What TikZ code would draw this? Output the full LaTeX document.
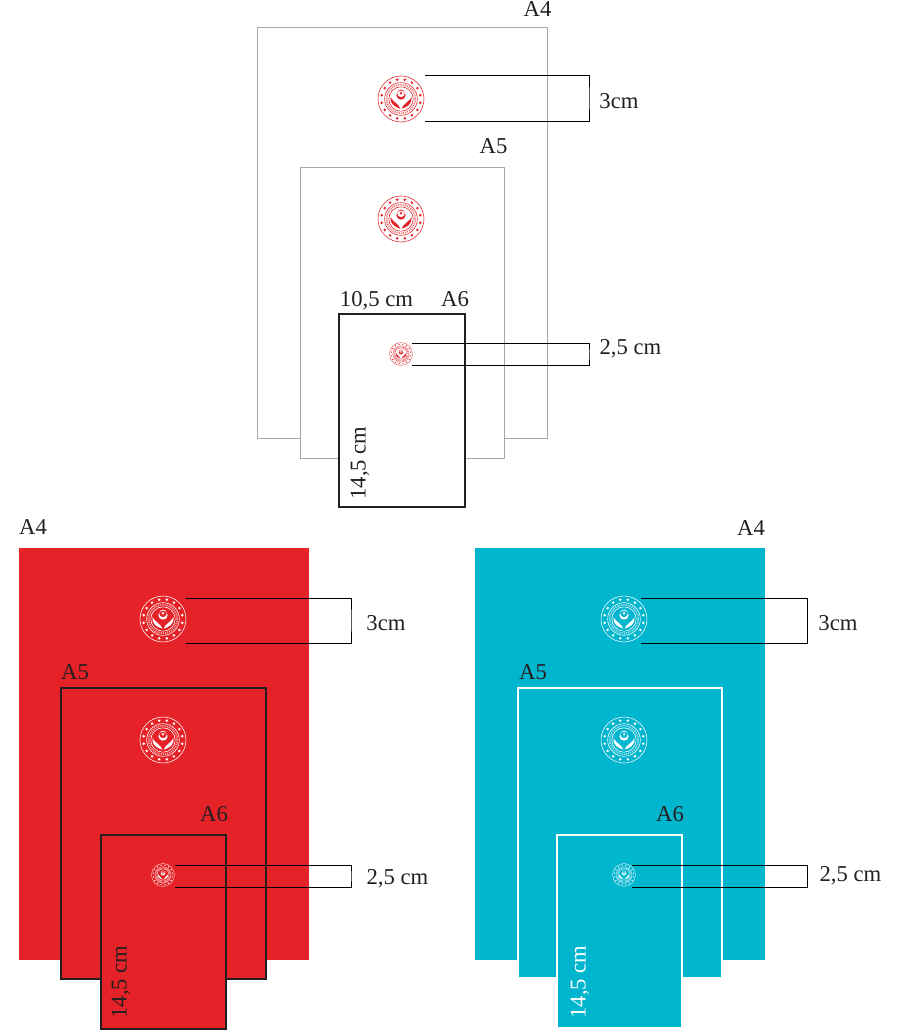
\documentclass[tikz,border=0pt]{standalone}
\usepackage{fontspec}
\setmainfont{Liberation Serif}
\definecolor{logored}{HTML}{E52227}
\definecolor{sheetred}{HTML}{E52227}
\definecolor{sheetcyan}{HTML}{00B5CE}
\definecolor{inkdark}{HTML}{231F20}
\definecolor{sheetgray}{HTML}{A8A8A8}
\tikzset{
  px/.style={x=0.75pt,y=-0.75pt},
  lbl/.style={font=\fontsize{17}{19}\selectfont,text=inkdark,inner sep=0pt},
  lblw/.style={font=\fontsize{17}{19}\selectfont,text=white,inner sep=0pt},
  bracketline/.style={draw=black,line width=0.75pt},
  sheetgrayline/.style={draw=sheetgray,fill=white,line width=0.6pt},
  sheetblack/.style={draw=inkdark,line width=0.85pt},
  sheetwhite/.style={draw=white,fill=sheetcyan,line width=0.8pt},
}
% \emblem{x}{y}{radius px}{colour}
\newcommand{\emblem}[4]{%
  \begin{scope}[shift={(#1,#2)},x=#3*0.75pt,y=-#3*0.75pt]
    \pgfmathsetmacro{\lw}{#3*0.018}
    \pgfmathsetmacro{\dlw}{#3*0.06}
    \pgfmathsetmacro{\don}{#3*0.035}
    \draw[#4,line width=\lw pt] (0,0) circle (1);
    \draw[#4,line width=\lw pt] (0,0) circle (0.71);
    \draw[#4,line width=\lw pt] (0,0) circle (0.53);
    \draw[#4,opacity=0.6,line width=\dlw pt,dash pattern=on \don pt off \don pt] (0,0) circle (0.62);
    \foreach \a in {0,22.5,...,337.5}
      \fill[#4] ({0.855*cos(\a+11.25)},{0.855*sin(\a+11.25)}) circle (0.062);
    \fill[#4,even odd rule] (0,-0.17) circle (0.2) (0,-0.24) circle (0.165);
    \fill[#4] (0,-0.25) circle (0.055);
    \fill[#4] (-0.46,-0.08) .. controls (-0.5,0.2) and (-0.25,0.36) .. (-0.03,0.42)
       .. controls (-0.1,0.2) and (-0.32,0.16) .. (-0.46,-0.08) -- cycle;
    \fill[#4] (0.46,-0.08) .. controls (0.5,0.2) and (0.25,0.36) .. (0.03,0.42)
       .. controls (0.1,0.2) and (0.32,0.16) .. (0.46,-0.08) -- cycle;
  \end{scope}}
\begin{document}
\begin{tikzpicture}[px]
\useasboundingbox (0,0) rectangle (907,1031);
% ---- top set
\draw[sheetgrayline] (257,27) rectangle (547,438);
\draw[sheetgrayline] (300,167) rectangle (504,458);
\draw[sheetblack,fill=white] (339,314) rectangle (465,507);
\emblem{401}{99}{23}{logored}
\emblem{401}{219}{23}{logored}
\emblem{401}{354}{11.5}{logored}
\coordinate (ta) at (425,76); \coordinate (tb) at (425,121); \coordinate (tc) at (589,98);
\draw[bracketline] (ta) -| (tc) |- (tb);
\coordinate (ua) at (412,343); \coordinate (ub) at (412,365); \coordinate (uc) at (589,354);
\draw[bracketline] (ua) -| (uc) |- (ub);
\node[lbl] (t4) at (537.5,9) {A4};
\node[lbl] (t5) at (493.5,146) {A5};
\node[lbl] (t6) at (455,299.5) {A6};
\node[lbl] (t105) at (376.5,300.5) {10,5 cm};
\node[lbl] (t3) at (619,101.5) {3cm};
\node[lbl] (t25) at (630.5,349) {2,5 cm};
\node[lbl,rotate=90] (t145) at (360,463) {14,5 cm};
% ---- red set
\fill[sheetred] (19,548) rectangle (309,960);
\draw[sheetblack,fill=sheetred] (61,688) rectangle (266,979);
\draw[sheetblack,fill=sheetred] (101,835) rectangle (226,1029);
\emblem{163}{619}{23}{white}
\emblem{163}{740}{23}{white}
\emblem{163}{875}{11.5}{white}
\coordinate (ra) at (186,598); \coordinate (rb) at (186,643); \coordinate (rc) at (351,620);
\draw[bracketline] (ra) -| (rc) |- (rb);
\coordinate (sa) at (175,865); \coordinate (sb) at (175,887); \coordinate (sc) at (351,876);
\draw[bracketline] (sa) -| (sc) |- (sb);
\node[lbl] (r4) at (33,527.5) {A4};
\node[lbl] (r5) at (75,672.5) {A5};
\node[lbl] (r6) at (214,814.5) {A6};
\node[lbl] (r3) at (386,623.5) {3cm};
\node[lbl] (r25) at (397.5,879) {2,5 cm};
\node[lbl,rotate=90] (r145) at (121,982) {14,5 cm};
% ---- cyan set
\fill[sheetcyan] (475,548) rectangle (765,960);
\draw[sheetwhite] (518,688) rectangle (722,978);
\draw[sheetwhite] (557,835) rectangle (682,1028);
\emblem{624}{619}{23}{white}
\emblem{624}{740}{23}{white}
\emblem{624}{875}{11.5}{white}
\coordinate (ca) at (641,598); \coordinate (cb) at (641,643); \coordinate (cc) at (807,620);
\draw[bracketline] (ca) -| (cc) |- (cb);
\coordinate (da) at (632,865); \coordinate (db) at (632,887); \coordinate (dc) at (807,876);
\draw[bracketline] (da) -| (dc) |- (db);
\node[lbl] (c4) at (751,528) {A4};
\node[lbl] (c5) at (533,672.5) {A5};
\node[lbl] (c6) at (670,814.5) {A6};
\node[lbl] (c3) at (838,623.5) {3cm};
\node[lbl] (c25) at (850.5,876) {2,5 cm};
\node[lblw,rotate=90] (c145) at (580,982) {14,5 cm};
\end{tikzpicture}
\end{document}
